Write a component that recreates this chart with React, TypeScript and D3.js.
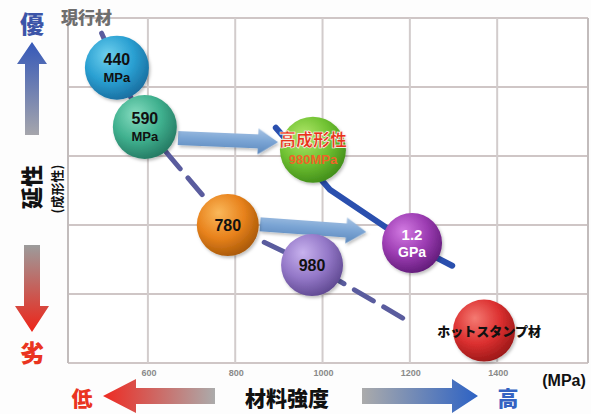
import React from 'react';
import * as d3 from 'd3';

// ---- data ----
const xTicks = [600, 800, 1000, 1200, 1400];
const xBounds = [417, 1608];
const yLevels = [0, 1, 2, 3, 4, 5];

const bubbleIds = ['b440', 'b590', 'bHigh', 'b780', 'b980', 'b12', 'bHot'];
const bubbleStrength = [529, 593, 978, 783, 976, 1205, 1370];
const bubbleDuctility = [4.28, 3.42, 3.09, 2.0, 1.42, 1.74, 0.47];
const bubbleLabel1 = ['440', '590', '高成形性', '780', '980', '1.2', 'ホットスタンプ材'];
const bubbleLabel2 = ['MPa', 'MPa', '980MPa', '', '', 'GPa', ''];

// current-material trend (dashed)
const dashStrength = [494, 529, 593, 783, 976, 1200];
const dashDuctility = [4.78, 4.28, 3.42, 2.0, 1.42, 0.59];
// high-formability trend (solid)
const solidStrength = [893, 1017, 1205, 1297];
const solidDuctility = [3.41, 2.51, 1.71, 1.41];
// improvement arrows [from, to]
const arrowStrength = [[669, 898], [857, 1100]];
const arrowDuctility = [[3.26, 3.2], [2.01, 1.9]];

const W = 591;
const H = 414;

const bubbleStyle: Record<string, { r: number; c: [string, string, string]; t1: any; t2: any }> = {
  b440: { r: 32, c: ['#6fd0ee', '#2aa0d2', '#186a9c'], t1: { fill: '#111', size: 16, dy: -3 }, t2: { fill: '#111', size: 13, dy: 14 } },
  b590: { r: 32, c: ['#86dcc0', '#3fb08e', '#237660'], t1: { fill: '#111', size: 16, dy: -3 }, t2: { fill: '#111', size: 13, dy: 14 } },
  bHigh: { r: 33, c: ['#b4e86c', '#70c232', '#3e8a18'], t1: { fill: '#e8321a', size: 17, dy: -4 }, t2: { fill: '#f06428', size: 13, dy: 14 } },
  b780: { r: 31, c: ['#fab85a', '#e8821c', '#a45606'], t1: { fill: '#111', size: 16, dy: 6 }, t2: { fill: '#111', size: 13, dy: 14 } },
  b980: { r: 31, c: ['#c8b2ee', '#9478c8', '#5c468e'], t1: { fill: '#111', size: 16, dy: 6 }, t2: { fill: '#111', size: 13, dy: 14 } },
  b12: { r: 30, c: ['#d27ae2', '#9c3cb2', '#5e1a76'], t1: { fill: '#fff', size: 15, dy: -3 }, t2: { fill: '#fff', size: 14, dy: 14 } },
  bHot: { r: 31, c: ['#f47a72', '#dc3030', '#961616'], t1: { fill: '#111', size: 13, dy: 5 }, t2: { fill: '#111', size: 13, dy: 14 } },
};

const CJK = '"Noto Sans CJK JP", "Noto Sans", sans-serif';
const LAT = '"Liberation Sans", Arial, sans-serif';

function blockArrowH(x0: number, x1: number, y: number, bh: number, hh: number, hl: number) {
  const dir = x1 > x0 ? 1 : -1;
  const xb = x1 - dir * hl;
  return `M${x0},${y - bh}L${xb},${y - bh}L${xb},${y - hh}L${x1},${y}L${xb},${y + hh}L${xb},${y + bh}L${x0},${y + bh}Z`;
}
function blockArrowV(x: number, y0: number, y1: number, bw: number, hw: number, hl: number) {
  const dir = y1 > y0 ? 1 : -1;
  const yb = y1 - dir * hl;
  return `M${x - bw},${y0}L${x - bw},${yb}L${x - hw},${yb}L${x},${y1}L${x + hw},${yb}L${x + bw},${yb}L${x + bw},${y0}Z`;
}
function tiltedArrow(xa: number, ya: number, xb: number, yb: number, bh: number, hh: number, hl: number) {
  const dx = xb - xa, dy = yb - ya;
  const len = Math.hypot(dx, dy);
  const ang = (Math.atan2(dy, dx) * 180) / Math.PI;
  return { d: blockArrowH(0, len, 0, bh, hh, hl), transform: `translate(${xa},${ya}) rotate(${ang})` };
}

export default function App() {
  const x = d3.scaleLinear().domain(xBounds).range([68, 588]);
  const y = d3.scaleLinear().domain([0, 5]).range([363, 18]);
  const line = d3.line<[number, number]>().x((d) => x(d[0])).y((d) => y(d[1]));
  const dashPts = dashStrength.map((s, i) => [s, dashDuctility[i]] as [number, number]);
  const solidPts = solidStrength.map((s, i) => [s, solidDuctility[i]] as [number, number]);

  return (
    <svg width={W} height={H} style={{ position: 'absolute', left: 0, top: 0, background: '#fdfdfd' }}>
      <defs>
        {bubbleIds.map((id) => {
          const c = bubbleStyle[id].c;
          return (
            <radialGradient key={id} id={`g-${id}`} cx="40%" cy="35%" r="70%" fx="35%" fy="30%">
              <stop offset="0%" stopColor={c[0]} />
              <stop offset="55%" stopColor={c[1]} />
              <stop offset="100%" stopColor={c[2]} />
            </radialGradient>
          );
        })}
        <linearGradient id="upG" x1="0" y1="0" x2="0" y2="1">
          <stop offset="0%" stopColor="#3558b8" />
          <stop offset="100%" stopColor="#a6a6ac" />
        </linearGradient>
        <linearGradient id="downG" x1="0" y1="0" x2="0" y2="1">
          <stop offset="0%" stopColor="#9c9c9c" />
          <stop offset="100%" stopColor="#ee2418" />
        </linearGradient>
        <linearGradient id="leftG" x1="0" y1="0" x2="1" y2="0">
          <stop offset="0%" stopColor="#ee2a22" />
          <stop offset="100%" stopColor="#ababab" />
        </linearGradient>
        <linearGradient id="rightG" x1="0" y1="0" x2="1" y2="0">
          <stop offset="0%" stopColor="#ababab" />
          <stop offset="100%" stopColor="#2d62c4" />
        </linearGradient>
        <linearGradient id="armG" x1="0" y1="0" x2="0" y2="1">
          <stop offset="0%" stopColor="#a8c4e4" />
          <stop offset="50%" stopColor="#7aa4d4" />
          <stop offset="100%" stopColor="#5c88bc" />
        </linearGradient>
        <filter id="sh" x="-30%" y="-30%" width="160%" height="160%">
          <feDropShadow dx="1.5" dy="2" stdDeviation="1.5" floodColor="#000" floodOpacity="0.25" />
        </filter>
      </defs>

      {/* plot background + grid */}
      <rect x={68} y={18} width={520} height={345} fill="#ffffff" />
      {yLevels.map((v) => (
        <line key={`h${v}`} x1={68} x2={588} y1={y(v)} y2={y(v)} stroke="#cfc6c6" strokeWidth={2} />
      ))}
      {xTicks.map((v) => (
        <line key={`v${v}`} x1={x(v)} x2={x(v)} y1={18} y2={363} stroke="#d2cccc" strokeWidth={2} />
      ))}
      <line x1={x(xBounds[0])} x2={x(xBounds[0])} y1={18} y2={363} stroke="#c2bcbc" strokeWidth={2} />
      <line x1={x(xBounds[1])} x2={x(xBounds[1])} y1={18} y2={363} stroke="#c2bcbc" strokeWidth={2} />

      {/* tick labels */}
      {xTicks.map((v) => (
        <text key={`t${v}`} x={x(v) + 1} y={376} textAnchor="middle" fontFamily={LAT} fontWeight="bold" fontSize={9} fill="#8a8a8a">
          {v}
        </text>
      ))}
      <text x={564} y={386} textAnchor="middle" fontFamily={LAT} fontWeight="bold" fontSize={16} fill="#111">(MPa)</text>

      {/* trend lines */}
      <path d={line(dashPts) || ''} fill="none" stroke="#5a5c9e" strokeWidth={5} strokeDasharray="22 12" strokeLinecap="round" />
      <path d={line(solidPts) || ''} fill="none" stroke="#2a4fae" strokeWidth={6} strokeLinecap="round" />

      {/* improvement arrows */}
      {arrowStrength.map((s, i) => {
        const a = tiltedArrow(x(s[0]), y(arrowDuctility[i][0]), x(s[1]), y(arrowDuctility[i][1]), 7, 13, 20);
        return <path key={`a${i}`} d={a.d} transform={a.transform} fill="url(#armG)" filter="url(#sh)" />;
      })}

      {/* bubbles */}
      {bubbleIds.map((id, i) => {
        const st = bubbleStyle[id];
        const cx = x(bubbleStrength[i]);
        const cy = y(bubbleDuctility[i]);
        const isCjk = /[^\x00-\x7F]/.test(bubbleLabel1[i]);
        return (
          <g key={id}>
            <circle cx={cx} cy={cy} r={st.r} fill={`url(#g-${id})`} filter="url(#sh)" />
            <text
              x={id === 'bHot' ? cx + 5 : cx}
              y={cy + st.t1.dy}
              textAnchor="middle"
              fontFamily={isCjk ? CJK : LAT}
              fontWeight={isCjk ? 900 : 'bold'}
              fontSize={st.t1.size}
              fill={st.t1.fill}
              stroke={id === 'bHigh' ? '#ffffff' : 'none'}
              strokeWidth={id === 'bHigh' ? 0.6 : 0}
            >
              {bubbleLabel1[i]}
            </text>
            {bubbleLabel2[i] && (
              <text x={cx} y={cy + st.t2.dy} textAnchor="middle" fontFamily={LAT} fontWeight="bold" fontSize={st.t2.size} fill={st.t2.fill}>
                {bubbleLabel2[i]}
              </text>
            )}
          </g>
        );
      })}

      {/* header label */}
      <text x={61} y={24} fontFamily={CJK} fontWeight={900} fontSize={17} fill="#6e6e6e">現行材</text>

      {/* left axis decoration */}
      <text x={32} y={33} textAnchor="middle" fontFamily={CJK} fontWeight={900} fontSize={24} fill="#3c55a8">優</text>
      <path d={blockArrowV(32, 135, 42, 7, 15, 22)} fill="url(#upG)" />
      <text transform="translate(40,187) rotate(-90)" textAnchor="middle" fontFamily={CJK} fontWeight={900} fontSize={22} fill="#111">延性</text>
      <text transform="translate(62,189) rotate(-90)" textAnchor="middle" fontFamily={CJK} fontWeight={700} fontSize={13} fill="#111">(成形性)</text>
      <path d={blockArrowV(32, 245, 332, 8, 17, 26)} fill="url(#downG)" />
      <text x={32} y={362} textAnchor="middle" fontFamily={CJK} fontWeight={900} fontSize={24} fill="#ea3420">劣</text>

      {/* bottom axis decoration */}
      <text x={82} y={406} textAnchor="middle" fontFamily={CJK} fontWeight={900} fontSize={21} fill="#ea3420">低</text>
      <path d={blockArrowH(215, 103, 396, 8, 17, 33)} fill="url(#leftG)" />
      <text x={287} y={406} textAnchor="middle" fontFamily={CJK} fontWeight={900} fontSize={21} fill="#111">材料強度</text>
      <path d={blockArrowH(362, 478, 396, 8, 17, 26)} fill="url(#rightG)" />
      <text x={508} y={406} textAnchor="middle" fontFamily={CJK} fontWeight={900} fontSize={21} fill="#3463c2">高</text>
    </svg>
  );
}
